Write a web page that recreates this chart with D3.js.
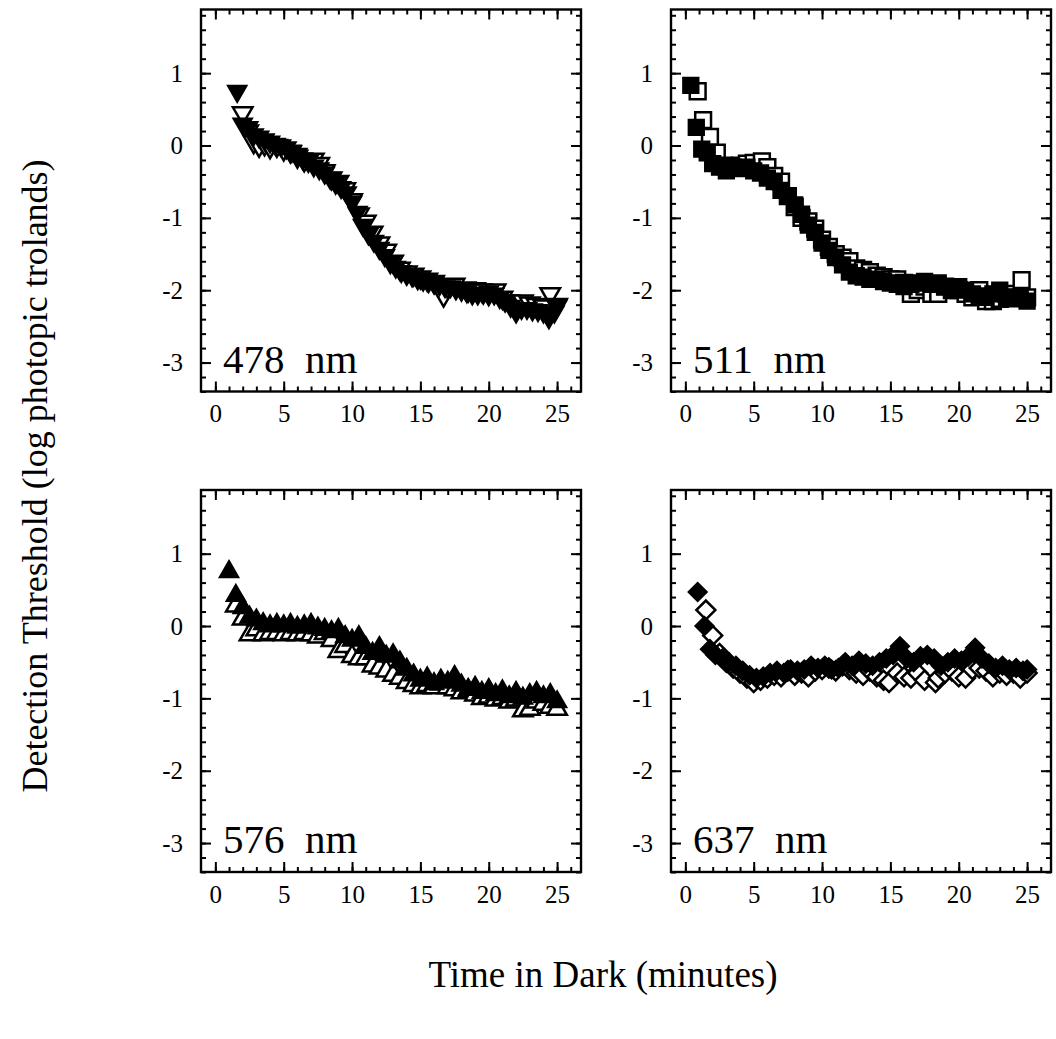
<!DOCTYPE html>
<html>
<head>
<meta charset="utf-8">
<script src="https://cdn.jsdelivr.net/npm/d3@7"></script>
<style>
  body { margin: 0; background: #fff; }
  text { font-family: "Liberation Serif", "Times New Roman", serif; fill: #000; }
</style>
</head>
<body>
<svg id="svg" width="1056" height="1039"></svg>
<script>
var svg = d3.select("#svg");

// wavelengths, one per panel (reading order)
var wavelengths = ["478", "511", "576", "637"];
var xTickLabels = [0, 5, 10, 15, 20, 25];
var yTickLabels = [-3, -2, -1, 0, 1];

// 478 nm : [minutes, log threshold]
var filled478 = [[1.6,0.75],[2.0,0.3],[2.4,0.25],[2.8,0.15],[3.2,0.12],[3.6,0.08],[4.0,0.05],[4.4,0.02],[4.8,0.0],[5.2,-0.03],[5.6,-0.08],[6.0,-0.12],[6.4,-0.18],[6.8,-0.22],[7.2,-0.28],[7.6,-0.32],[8.0,-0.38],[8.4,-0.45],[8.8,-0.52],[9.2,-0.58],[9.6,-0.65],[10.0,-0.78],[10.4,-0.92],[10.8,-1.1],[11.2,-1.22],[11.6,-1.32],[12.0,-1.42],[12.4,-1.52],[12.8,-1.62],[13.2,-1.68],[13.6,-1.74],[14.0,-1.78],[14.4,-1.8],[14.8,-1.84],[15.2,-1.86],[15.6,-1.88],[16.0,-1.9],[16.4,-1.92],[16.8,-1.95],[17.2,-1.95],[17.6,-1.98],[18.0,-2.0],[18.4,-2.02],[18.8,-2.05],[19.2,-2.05],[19.6,-2.04],[20.0,-2.02],[20.4,-2.05],[20.8,-2.1],[21.2,-2.15],[21.6,-2.22],[22.0,-2.3],[22.4,-2.25],[22.8,-2.25],[23.2,-2.27],[23.6,-2.28],[24.0,-2.3],[24.4,-2.38],[24.8,-2.3],[25.0,-2.22]];
var open478 = [[2.0,0.45],[2.4,0.2],[2.8,0.05],[3.2,0.0],[3.6,0.02],[4.0,-0.02],[4.5,0.0],[5.0,-0.05],[5.5,-0.08],[6.0,-0.15],[6.5,-0.2],[7.2,-0.19],[7.6,-0.25],[8.0,-0.35],[8.5,-0.45],[9.0,-0.5],[9.5,-0.6],[10.0,-0.75],[10.5,-0.95],[11.0,-1.05],[11.5,-1.2],[12.0,-1.35],[12.5,-1.45],[13.0,-1.6],[13.5,-1.7],[14.0,-1.75],[14.5,-1.78],[15.0,-1.82],[15.5,-1.85],[16.0,-1.88],[16.7,-2.07],[17.0,-1.95],[17.5,-1.92],[18.3,-1.97],[18.5,-2.0],[19.0,-1.98],[19.5,-2.0],[20.0,-2.05],[20.5,-2.0],[21.0,-2.1],[21.5,-2.15],[22.0,-2.2],[22.5,-2.15],[23.0,-2.18],[23.5,-2.2],[24.0,-2.22],[24.5,-2.05],[25.0,-2.2]];

// 511 nm
var filled511 = [[0.4,0.83],[0.8,0.25],[1.2,-0.05],[1.6,-0.1],[2.0,-0.25],[2.5,-0.3],[3.0,-0.35],[3.5,-0.3],[4.0,-0.32],[4.5,-0.3],[5.0,-0.35],[5.5,-0.38],[6.0,-0.45],[6.5,-0.5],[7.0,-0.62],[7.5,-0.7],[8.0,-0.82],[8.5,-0.95],[9.0,-1.1],[9.5,-1.2],[10.0,-1.35],[10.5,-1.45],[11.0,-1.55],[11.5,-1.65],[12.0,-1.75],[12.5,-1.8],[13.0,-1.82],[13.5,-1.85],[14.0,-1.85],[14.5,-1.88],[15.0,-1.9],[15.5,-1.92],[16.0,-1.95],[16.5,-1.92],[17.0,-1.9],[17.5,-1.88],[18.0,-1.92],[18.5,-1.9],[19.0,-1.95],[19.5,-1.98],[20.0,-1.95],[20.5,-2.0],[21.0,-2.05],[21.5,-2.08],[22.0,-2.1],[22.5,-2.05],[23.0,-2.0],[23.5,-2.1],[24.0,-2.12],[24.5,-2.1],[25.0,-2.15]];
var open511 = [[0.9,0.75],[1.3,0.35],[1.8,0.12],[2.3,-0.1],[2.8,-0.28],[3.3,-0.3],[4.0,-0.28],[4.5,-0.25],[5.0,-0.24],[5.6,-0.22],[6.0,-0.3],[6.5,-0.42],[7.0,-0.5],[7.5,-0.7],[8.0,-0.85],[8.5,-1.0],[9.0,-1.05],[9.5,-1.15],[10.0,-1.3],[10.5,-1.4],[11.0,-1.5],[11.5,-1.55],[12.0,-1.6],[12.5,-1.7],[13.0,-1.72],[13.5,-1.75],[14.0,-1.8],[14.5,-1.82],[15.0,-1.85],[15.5,-1.85],[16.0,-1.9],[16.5,-2.05],[17.0,-2.0],[17.5,-1.95],[18.0,-2.05],[18.5,-2.05],[19.0,-1.95],[19.5,-2.0],[20.0,-2.0],[20.5,-2.05],[21.0,-2.1],[21.5,-2.0],[22.0,-2.15],[22.5,-2.15],[23.0,-2.12],[23.5,-2.05],[24.0,-2.1],[24.6,-1.86],[25.0,-2.1]];

// 576 nm
var filled576 = [[1.0,0.75],[1.5,0.42],[2.0,0.25],[2.5,0.12],[3.0,0.08],[3.5,0.03],[4.0,0.0],[4.5,0.02],[5.0,0.0],[5.5,0.02],[6.0,-0.02],[6.5,0.0],[7.0,0.02],[7.5,-0.03],[8.0,-0.05],[8.5,-0.08],[9.0,-0.05],[9.5,-0.15],[10.0,-0.2],[10.5,-0.15],[11.0,-0.3],[11.5,-0.38],[12.0,-0.3],[12.5,-0.42],[13.0,-0.4],[13.5,-0.5],[14.0,-0.6],[14.5,-0.68],[15.0,-0.75],[15.5,-0.72],[16.0,-0.8],[16.5,-0.75],[17.0,-0.78],[17.5,-0.7],[18.0,-0.82],[18.5,-0.88],[19.0,-0.85],[19.5,-0.92],[20.0,-0.88],[20.5,-0.95],[21.0,-0.9],[21.5,-0.98],[22.0,-0.92],[22.5,-1.0],[23.0,-0.95],[23.5,-0.92],[24.0,-0.98],[24.5,-0.95],[25.0,-1.05]];
var open576 = [[1.5,0.28],[2.0,0.1],[2.5,-0.12],[3.0,-0.05],[3.5,-0.12],[4.0,-0.1],[4.5,-0.1],[5.0,-0.12],[5.5,-0.1],[6.0,-0.12],[6.5,-0.1],[7.0,-0.12],[7.5,-0.15],[8.0,-0.1],[8.5,-0.2],[9.0,-0.35],[9.5,-0.28],[10.0,-0.42],[10.5,-0.45],[11.0,-0.45],[11.5,-0.55],[12.0,-0.58],[12.5,-0.62],[13.0,-0.68],[13.5,-0.72],[14.0,-0.78],[14.5,-0.82],[15.0,-0.85],[15.5,-0.82],[16.0,-0.85],[16.5,-0.8],[17.0,-0.85],[17.5,-0.88],[18.0,-0.92],[18.5,-0.9],[19.0,-0.95],[19.5,-1.0],[20.0,-0.98],[20.5,-1.02],[21.0,-1.0],[21.5,-1.05],[22.0,-1.02],[22.5,-1.17],[23.0,-1.15],[23.5,-1.05],[24.0,-1.08],[24.5,-1.12],[25.0,-1.15]];

// 637 nm
var filled637 = [[0.9,0.47],[1.4,0.0],[1.8,-0.32],[2.2,-0.4],[2.7,-0.45],[3.2,-0.5],[3.7,-0.55],[4.2,-0.62],[4.7,-0.68],[5.2,-0.72],[5.7,-0.7],[6.2,-0.65],[6.7,-0.62],[7.2,-0.65],[7.7,-0.6],[8.2,-0.62],[8.7,-0.6],[9.2,-0.55],[9.7,-0.58],[10.2,-0.55],[10.7,-0.6],[11.2,-0.58],[11.7,-0.5],[12.2,-0.55],[12.7,-0.48],[13.2,-0.52],[13.7,-0.55],[14.2,-0.5],[14.7,-0.45],[15.2,-0.4],[15.7,-0.28],[16.2,-0.45],[16.7,-0.5],[17.2,-0.42],[17.7,-0.4],[18.2,-0.45],[18.7,-0.55],[19.2,-0.5],[19.7,-0.45],[20.2,-0.48],[20.7,-0.42],[21.2,-0.3],[21.7,-0.45],[22.2,-0.52],[22.7,-0.58],[23.2,-0.55],[23.7,-0.6],[24.2,-0.58],[24.7,-0.62],[25.0,-0.6]];
var open637 = [[1.5,0.22],[2.0,-0.13],[2.5,-0.38],[3.0,-0.5],[3.5,-0.58],[4.0,-0.65],[4.5,-0.72],[5.0,-0.78],[5.5,-0.75],[6.0,-0.72],[6.5,-0.68],[7.0,-0.7],[7.5,-0.62],[8.0,-0.68],[8.5,-0.65],[9.0,-0.7],[9.5,-0.62],[10.0,-0.6],[10.5,-0.58],[11.0,-0.62],[11.5,-0.55],[12.0,-0.6],[12.5,-0.65],[13.0,-0.68],[13.5,-0.62],[14.0,-0.7],[14.5,-0.75],[14.9,-0.78],[15.5,-0.65],[16.0,-0.7],[16.5,-0.72],[17.0,-0.65],[17.5,-0.75],[18.3,-0.78],[18.5,-0.72],[19.0,-0.65],[19.5,-0.62],[20.0,-0.7],[20.5,-0.72],[21.0,-0.6],[21.5,-0.58],[22.0,-0.62],[22.5,-0.7],[23.0,-0.65],[23.5,-0.68],[24.0,-0.65],[24.5,-0.72],[25.0,-0.65]];

var panels = [
  {label: wavelengths[0], filled: filled478, open: open478, shape: "down", left: 201, top: 9.5},
  {label: wavelengths[1], filled: filled511, open: open511, shape: "square", left: 671, top: 9.5},
  {label: wavelengths[2], filled: filled576, open: open576, shape: "up", left: 201, top: 490},
  {label: wavelengths[3], filled: filled637, open: open637, shape: "diamond", left: 671, top: 490}
];

var W = 380, H = 382;
var x = d3.scaleLinear().domain([-1.05, 26.75]).range([0, W]);
var y = d3.scaleLinear().domain([-3.4, 1.88]).range([H, 0]);

function symbolPath(shape) {
  if (shape == "square") return d3.symbol(d3.symbolSquare, 250)();
  if (shape == "diamond") return d3.symbol(d3.symbolSquare, 180)();
  return d3.symbol(d3.symbolTriangle, 165)();
}
function rot(shape) {
  if (shape == "down") return 180;
  if (shape == "diamond") return 45;
  return 0;
}

panels.forEach(function (p) {
  var g = svg.append("g").attr("transform", "translate(" + p.left + "," + p.top + ")");

  var minorX = d3.range(0, 27, 1), minorY = d3.range(-34, 19, 2).map(function (d) { return d / 10; });

  // minor ticks
  g.append("g").attr("transform", "translate(0," + H + ")")
    .call(d3.axisBottom(x).tickValues(minorX).tickSize(-5).tickFormat(""));
  g.append("g").call(d3.axisTop(x).tickValues(minorX).tickSize(-5).tickFormat(""));
  g.append("g").call(d3.axisLeft(y).tickValues(minorY).tickSize(-5).tickFormat(""));
  g.append("g").attr("transform", "translate(" + W + ",0)")
    .call(d3.axisRight(y).tickValues(minorY).tickSize(-5).tickFormat(""));

  // major ticks + labels
  g.append("g").attr("class", "xaxis").attr("transform", "translate(0," + H + ")")
    .call(d3.axisBottom(x).tickValues(xTickLabels).tickSize(-10).tickPadding(13).tickFormat(String));
  g.append("g").call(d3.axisTop(x).tickValues(xTickLabels).tickSize(-10).tickFormat(""));
  g.append("g").attr("class", "yaxis")
    .call(d3.axisLeft(y).tickValues(yTickLabels).tickSize(-10).tickPadding(18).tickFormat(String));
  g.append("g").attr("transform", "translate(" + W + ",0)")
    .call(d3.axisRight(y).tickValues(yTickLabels).tickSize(-10).tickFormat(""));

  g.selectAll(".domain").remove();
  g.selectAll(".tick line").attr("stroke", "#000").attr("stroke-width", 2);
  g.selectAll(".tick text").style("font-size", "25px").style("font-family", "Liberation Serif");

  g.append("rect").attr("width", W).attr("height", H)
    .attr("fill", "none").attr("stroke", "#000").attr("stroke-width", 2.4);

  var path = symbolPath(p.shape);
  g.selectAll(".open").data(p.open).enter().append("path")
    .attr("class", "open")
    .attr("d", path)
    .attr("transform", function (d) { return "translate(" + x(d[0]) + "," + y(d[1]) + ") rotate(" + rot(p.shape) + ")"; })
    .attr("fill", "#fff").attr("stroke", "#000").attr("stroke-width", 2.5);
  g.selectAll(".filled").data(p.filled).enter().append("path")
    .attr("class", "filled")
    .attr("d", path)
    .attr("transform", function (d) { return "translate(" + x(d[0]) + "," + y(d[1]) + ") rotate(" + rot(p.shape) + ")"; })
    .attr("fill", "#000").attr("stroke", "#000").attr("stroke-width", 1.5);

  g.append("text")
    .attr("x", 22).attr("y", H - 19)
    .attr("xml:space", "preserve")
    .style("font-size", "41px")
    .text(p.label + "  nm");
});

svg.append("text")
  .attr("x", 603).attr("y", 987)
  .attr("text-anchor", "middle")
  .style("font-size", "37px")
  .text("Time in Dark (minutes)");

svg.append("text")
  .attr("transform", "translate(47,476) rotate(-90)")
  .attr("text-anchor", "middle")
  .style("font-size", "36px")
  .text("Detection Threshold (log photopic trolands)");
</script>
</body>
</html>
